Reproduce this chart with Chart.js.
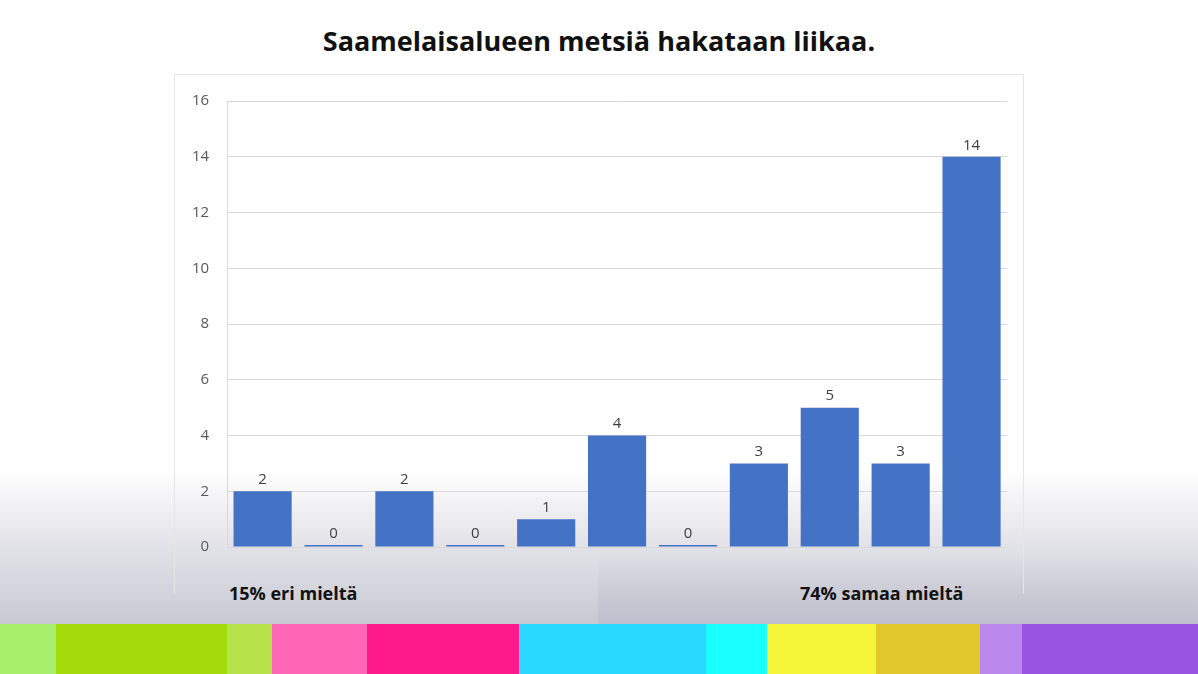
<!DOCTYPE html>
<html><head><meta charset="utf-8">
<script src="https://cdn.jsdelivr.net/npm/chart.js@4/dist/chart.umd.min.js"></script>
<style>
html,body{margin:0;padding:0;}
body{width:1198px;height:674px;position:relative;overflow:hidden;font-family:"Open Sans",sans-serif;
background:linear-gradient(to bottom,#fff 0px,#fff 470px,#e4e4ea 540px,#c9c9d3 624px);}
#right{position:absolute;left:598px;top:555px;width:600px;height:69px;background:linear-gradient(to bottom,rgba(190,190,205,0),rgba(180,180,198,0.45));}
#box{position:absolute;left:174px;top:74px;width:850px;height:520px;border:1px solid #e6e6e6;border-bottom:none;box-sizing:border-box;}
#title{position:absolute;left:0;width:1198px;top:22px;text-align:center;font-weight:bold;font-size:27px;color:#111;}
.lab{position:absolute;top:581px;font-weight:bold;font-size:18px;color:#111;}
#stripes{position:absolute;left:0;top:624px;width:1198px;height:50px;}
#stripes div{position:absolute;top:0;height:50px;}
#wrap{position:absolute;left:174px;top:74px;width:850px;height:500px;}
</style></head><body>
<div id="right"></div>
<div id="box"></div>
<div id="title">Saamelaisalueen metsiä hakataan liikaa.</div>
<div class="lab" style="left:229px">15% eri mieltä</div>
<div class="lab" style="left:800px">74% samaa mieltä</div>
<div id="stripes"></div>
<div id="wrap"><canvas id="c" width="850" height="500"></canvas></div>
<script>
const categories = ["1","2","3","4","5","6","7","8","9","10","11"];
const values = [2,0,2,0,1,4,0,3,5,3,14];
const yTicks = [0,2,4,6,8,10,12,14,16];
const stripeEdges = [0,56,227,272,367,519,706,767,876,980,1022,1198];
const stripeColors = ["#a8ef6c","#a3dc0a","#b8e24a","#ff66b5","#ff1a8c","#28d8ff","#1affff","#f5f53a","#e0c82a","#bb88ee","#9955e0"];
const st=document.getElementById('stripes');
stripeColors.forEach((c,i)=>{const d=document.createElement('div');d.style.left=stripeEdges[i]+'px';d.style.width=(stripeEdges[i+1]-stripeEdges[i])+'px';d.style.background=c;st.appendChild(d);});
const labelPlugin={id:'lbl',afterDatasetsDraw(ch){const ctx=ch.ctx;const m=ch.getDatasetMeta(0);ctx.save();ctx.font='15px "Open Sans"';ctx.fillStyle='#404040';ctx.textAlign='center';ctx.textBaseline='bottom';
m.data.forEach((b,i)=>{ctx.fillText(String(values[i]),b.x,b.y-4);});ctx.restore();}};
new Chart(document.getElementById('c'),{type:'bar',
data:{labels:categories,datasets:[{data:values,backgroundColor:'#4472c4',barPercentage:0.82,categoryPercentage:1,minBarLength:2}]},
options:{responsive:false,animation:false,layout:{padding:{left:0,right:17,top:20,bottom:0}},
plugins:{legend:{display:false},tooltip:{enabled:false}},
scales:{x:{ticks:{display:false},grid:{display:false},border:{display:false}},
y:{min:0,max:16,afterBuildTicks(a){a.ticks=yTicks.map(v=>({value:v}));},
ticks:{color:'#595959',font:{size:15,family:'"Open Sans"'},padding:18},
grid:{color:'#d9d9d9',drawTicks:false},border:{display:true,color:'#d9d9d9'}}}},
plugins:[labelPlugin]});
</script></body></html>
